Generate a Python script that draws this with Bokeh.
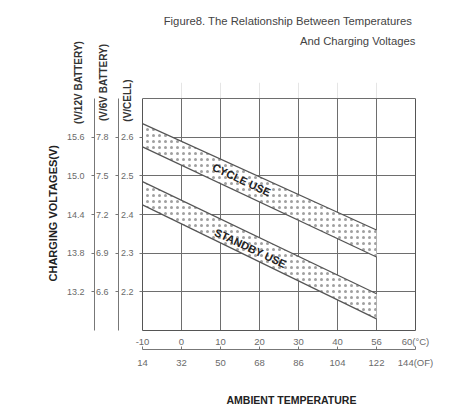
from bokeh.plotting import figure
from bokeh.models import (LinearAxis, Range1d, FixedTicker, Grid, Title,
                          PrintfTickFormatter)
from bokeh.embed import file_html
from bokeh.resources import INLINE
from bokeh.core.properties import value

# ---------------- data ----------------
temp_c_ticks = [-10, 0, 10, 20, 30, 40, 50, 60]
temp_c_labels = ["-10", "0", "10", "20", "30", "40", "56", "60(°C)"]
temp_f_ticks = [14, 32, 50, 68, 86, 104, 122, 140]
temp_f_labels = ["14", "32", "50", "68", "86", "104", "122", "144(OF)"]

vcell_grid = [2.2, 2.3, 2.4, 2.5, 2.6, 2.7]
vcell_ticks = [2.2, 2.3, 2.4, 2.5, 2.6]
v6_ticks = [6.6, 6.9, 7.2, 7.5, 7.8]
v12_ticks = [13.2, 13.8, 14.4, 15.0, 15.6]
vcell_span = (2.1, 2.7)
v6_span = (6.3, 8.1)
v12_span = (12.6, 16.2)

band_temp = [-10, 50]
cycle_upper = [2.635, 2.36]
cycle_lower = [2.575, 2.29]
standby_upper = [2.485, 2.195]
standby_lower = [2.425, 2.13]

band_names = ["CYCLE USE", "STANDBY USE"]
band_label_temp = [15.4, 17.7]
band_label_volt = [2.49, 2.313]

# header space above the chart is part of the y range (layout only)
Y_TOP = 2.7414

FONT = "Liberation Sans"
GRID = "#6e6e6e"
EDGE = "#555555"
LBL = "#6a6a6a"
NB = "\u00a0"

p = figure(width=454, height=417,
           x_range=Range1d(-10, 60), y_range=Range1d(vcell_span[0], Y_TOP),
           output_backend="svg", toolbar_location=None,
           x_axis_location=None, y_axis_location=None,
           min_border_left=142, min_border_right=39,
           min_border_top=82, min_border_bottom=87)
p.outline_line_color = None
p.background_fill_color = "white"
p.border_fill_color = "white"

p.extra_y_ranges = {"v6": Range1d(3 * vcell_span[0], 3 * Y_TOP),
                    "v12": Range1d(6 * vcell_span[0], 6 * Y_TOP)}
p.extra_x_ranges = {"f": Range1d(temp_f_ticks[0], temp_f_ticks[-1])}

# grids
gx = Grid(dimension=0, ticker=FixedTicker(ticks=temp_c_ticks),
          grid_line_color=GRID, grid_line_width=1)
try:
    gx.cross_bounds = vcell_span
except (AttributeError, ValueError):
    pass
gy = Grid(dimension=1, ticker=FixedTicker(ticks=vcell_grid),
          grid_line_color=GRID, grid_line_width=1)
p.add_layout(gx)
p.add_layout(gy)


def style(ax):
    ax.major_label_text_font = FONT
    ax.major_label_text_font_size = "9px"
    ax.major_label_text_color = LBL
    ax.minor_tick_line_color = None
    ax.axis_line_color = "#777777"
    ax.major_tick_line_color = "#777777"
    ax.major_tick_out = 3
    ax.major_tick_in = 0
    ax.axis_label_text_font = FONT
    ax.axis_label_text_font_size = "10px"
    ax.axis_label_text_font_style = "bold"
    ax.axis_label_text_color = "#333333"


def align_end(ax):
    for v in ("end", "right"):
        try:
            ax.axis_label_align = v
            return
        except (AttributeError, ValueError):
            pass


def spacer(size):
    # an axis with one white tick at the frame edge that only reserves room
    edge = temp_c_ticks[-1]
    ax = LinearAxis(ticker=FixedTicker(ticks=[edge]),
                    major_label_overrides={edge: ""})
    ax.axis_line_color = None
    ax.major_tick_line_color = "white"
    ax.minor_tick_line_color = None
    ax.major_tick_out = size
    ax.major_tick_in = 0
    ax.minor_tick_out = 0
    ax.major_label_standoff = 0
    ax.major_label_text_font_size = "1px"
    ax.major_label_text_color = "white"
    return ax


# left axes (first added = closest to frame)
ax_cell = LinearAxis(ticker=FixedTicker(ticks=vcell_ticks), bounds=vcell_span,
                     formatter=PrintfTickFormatter(format="%.1f"),
                     axis_label="(V/CELL)" + NB * 13)
ax_v6 = LinearAxis(y_range_name="v6", ticker=FixedTicker(ticks=v6_ticks),
                   bounds=v6_span, formatter=PrintfTickFormatter(format="%.1f"),
                   axis_label="(V/6V BATTERY)")
ax_v12 = LinearAxis(y_range_name="v12", ticker=FixedTicker(ticks=v12_ticks),
                    bounds=v12_span, formatter=PrintfTickFormatter(format="%.1f"),
                    axis_label="(V/12V BATTERY)")
for ax in (ax_cell, ax_v6, ax_v12):
    style(ax)
    align_end(ax)
ax_cell.axis_line_color = EDGE
ax_cell.major_label_standoff = 6
ax_cell.axis_label_standoff = -15
ax_v6.major_label_standoff = 7
ax_v6.axis_label_standoff = -16
ax_v12.major_label_standoff = 7
ax_v12.axis_label_standoff = -20
p.add_layout(ax_cell, "left")
p.add_layout(ax_v6, "left")
p.add_layout(ax_v12, "left")

p.add_layout(Title(text="CHARGING VOLTAGES(V)", align="left", offset=49,
                   standoff=22, text_font=FONT, text_font_size="11px",
                   text_font_style="bold", text_color="#222222"), "left")

# right edge of the chart box
ax_r = LinearAxis(ticker=FixedTicker(ticks=[]), bounds=vcell_span)
ax_r.axis_line_color = EDGE
ax_r.major_tick_out = 0
ax_r.minor_tick_out = 0
p.add_layout(ax_r, "right")

# bottom axes
ax_c = LinearAxis(ticker=FixedTicker(ticks=temp_c_ticks),
                  major_label_overrides=dict(zip(temp_c_ticks, temp_c_labels)))
style(ax_c)
ax_c.axis_line_color = EDGE
ax_c.major_tick_out = 0
ax_c.major_label_standoff = 5
ax_c.major_label_text_font_size = "9.5px"
ax_f = LinearAxis(x_range_name="f", ticker=FixedTicker(ticks=temp_f_ticks),
                  major_label_overrides=dict(zip(temp_f_ticks, temp_f_labels)))
style(ax_f)
ax_f.major_tick_out = 0
ax_f.major_tick_in = 3
ax_f.major_label_standoff = 7
ax_f.major_label_text_font_size = "9.5px"
p.add_layout(ax_c, "below")
p.add_layout(ax_f, "below")
p.add_layout(spacer(20), "below")
p.add_layout(Title(text="AMBIENT TEMPERATURE", align="left", offset=84,
                   standoff=2, text_font=FONT, text_font_size="10.5px",
                   text_font_style="bold", text_color="#222222"), "below")

# header (second line closest to the chart)
p.add_layout(spacer(35), "above")
p.add_layout(Title(text="And Charging Voltages", align="right", standoff=1,
                   text_font=FONT, text_font_size="11.3px",
                   text_font_style="normal", text_color="#444444"), "above")
p.add_layout(Title(text="Figure8.  The Relationship Between Temperatures",
                   align="right", standoff=12, text_font=FONT,
                   text_font_size="11.3px", text_font_style="normal",
                   text_color="#444444"), "above")

# bands
for up, lo in ((cycle_upper, cycle_lower), (standby_upper, standby_lower)):
    p.patch(x=band_temp + band_temp[::-1], y=up + lo[::-1],
            fill_color="white", line_color=None,
            hatch_pattern=".", hatch_color="#a0a0a0", hatch_scale=6,
            hatch_weight=0.6)
    p.line(x=band_temp, y=up, line_color=EDGE, line_width=1.2)
    p.line(x=band_temp, y=lo, line_color=EDGE, line_width=1.2)

p.text(x=band_label_temp, y=band_label_volt, text=band_names,
       angle=-0.44, text_font=value(FONT), text_font_style="bold",
       text_font_size="11px", text_align="center", text_baseline="middle",
       text_color="#222222")

open("out.html", "w").write(file_html(p, INLINE))
